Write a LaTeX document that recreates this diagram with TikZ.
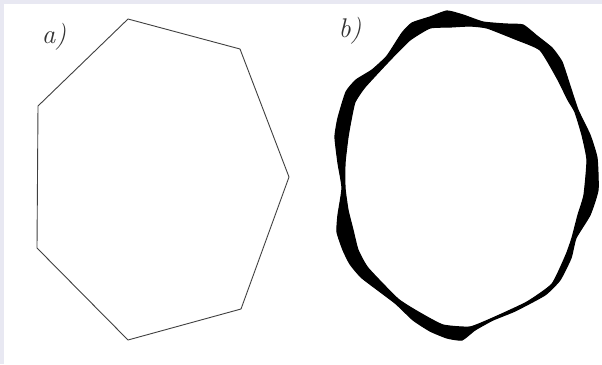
\documentclass[tikz,border=0pt]{standalone}
\usepackage{tikz}

\definecolor{marc}{HTML}{E8E8F2}

\begin{document}
\begin{tikzpicture}[
    x=1pt, y=-1pt,
    etiqueta/.style={font=\fontsize{27}{27}\selectfont\itshape, text=black!80, inner sep=0pt}
]

    % Fons i marc
    \fill[marc] (0,0) rectangle (602,364);
    \fill[white] (4,4) rectangle (602,364);
    \useasboundingbox (0,0) rectangle (602,364);

    % a) Heptàgon
    \draw[
        line width=0.9pt,
        black!75,
        line join=round
    ] (128,19) -- (240,49) -- (289,177) -- (241,309)
      -- (128,340) -- (37,248) -- (38,106) -- cycle;

    % b) Contorn difuminat
    \filldraw[
        black,
        line width=1.2pt,
        line join=round,
        even odd rule
    ] plot[smooth cycle, tension=0.3] coordinates {
        (447,11) (463,15) (483,22) (505,24) (523,25) (537,36) (552,48)
        (562,62) (570,86) (578,110) (590,135) (597,158) (598,190)
        (590,215) (576,238) (571,258) (560,280) (545,295) (515,311)
        (493,320) (475,330) (462,340) (447,338) (430,331) (413,320)
        (395,303) (362,278) (350,264) (343,250) (337,232) (338,215)
        (342,188) (338,163) (335,137) (338,118) (346,92) (356,80)
        (372,70) (387,56) (402,33) (412,23) (430,17)}
      plot[smooth cycle, tension=0.3] coordinates {
        (430,28) (450,27) (470,26) (487,28) (515,39) (540,50) (557,78)
        (568,100) (575,112) (582,135) (587,160) (584,195) (578,215)
        (572,238) (566,255) (552,284) (527,302) (495,317) (470,327)
        (443,325) (420,313) (398,299) (368,268) (358,250) (353,230)
        (348,210) (345,188) (345,163) (348,137) (351,120) (355,102)
        (365,87) (390,60) (410,40)};

    % Etiquetes
    \node[etiqueta] (etqa) at (54,37) {a)};
    \node[etiqueta] (etqb) at (350,31) {b)};

\end{tikzpicture}
\end{document}
